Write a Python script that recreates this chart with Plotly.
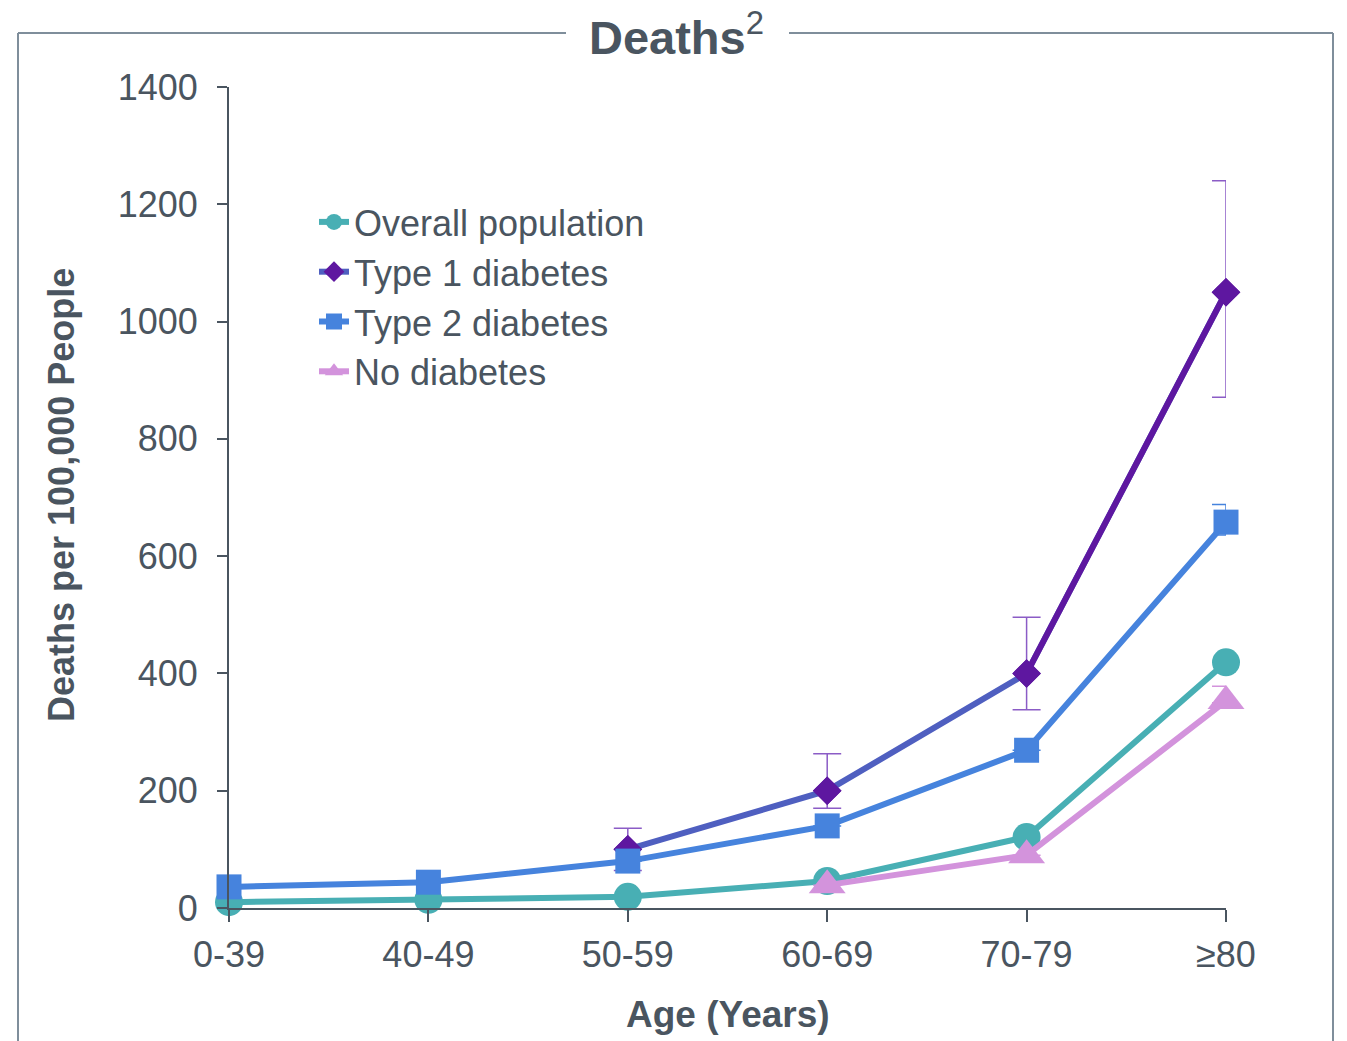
import plotly.graph_objects as go

# Age bands on the x axis
ages = ["0-39", "40-49", "50-59", "60-69", "70-79", "≥80"]

# Deaths per 100,000 people by group
overall = [10, 14, 19, 46, 121, 419]
type1_ages = ["50-59", "60-69", "70-79", "≥80"]
type1 = [100, 200, 400, 1050]
type1_err_plus = [36, 63, 96, 190]
type1_err_minus = [36, 30, 62, 179]
type2 = [36, 44, 80, 140, 269, 658]
type2_err_plus = [0, 0, 0, 0, 0, 30]
type2_err_minus = [0, 0, 0, 0, 0, 22]
nodiab_ages = ["60-69", "70-79", "≥80"]
nodiab = [39, 90, 353]
nodiab_err_plus = [0, 0, 25]
nodiab_err_minus = [0, 0, 3]

yticks = [0, 200, 400, 600, 800, 1000, 1200, 1400]

TEXT = "#4A5560"
AXIS = "#4A5560"
FRAME = "#7F8E9B"
TEAL = "#48AFB4"
T1_LINE = "#4F5FC0"
T1_MARK = "#5E17A0"
T1_ERR = "#8B5CC6"
T2 = "#4683DD"
PINK = "#D393DC"
FONT = "Liberation Sans, Arial, sans-serif"
LW = 6

fig = go.Figure()

fig.add_trace(go.Scatter(
    x=ages, y=overall, name="Overall population", mode="lines+markers",
    line=dict(color=TEAL, width=LW),
    marker=dict(symbol="circle", size=28, color=TEAL),
    cliponaxis=False,
))

t1_marker = dict(symbol="diamond", size=22, color=T1_MARK)
fig.add_trace(go.Scatter(
    x=type1_ages, y=type1, name="Type 1 diabetes", mode="lines+markers",
    line=dict(color=T1_LINE, width=LW),
    marker=t1_marker,
    error_y=dict(type="data", symmetric=False, array=type1_err_plus,
                 arrayminus=type1_err_minus, color=T1_ERR,
                 thickness=1.5, width=14),
    cliponaxis=False,
))
# final Type 1 segment is drawn in the darker purple, markers back on top
fig.add_trace(go.Scatter(
    x=type1_ages[-2:], y=type1[-2:], mode="lines", showlegend=False,
    line=dict(color=T1_MARK, width=LW), hoverinfo="skip", cliponaxis=False,
))
fig.add_trace(go.Scatter(
    x=type1_ages, y=type1, mode="markers", showlegend=False,
    marker=t1_marker, hoverinfo="skip", cliponaxis=False,
))

fig.add_trace(go.Scatter(
    x=ages, y=type2, name="Type 2 diabetes", mode="lines+markers",
    line=dict(color=T2, width=LW),
    marker=dict(symbol="square", size=25, color=T2),
    error_y=dict(type="data", symmetric=False, array=type2_err_plus,
                 arrayminus=type2_err_minus, color=T2,
                 thickness=1.5, width=14),
    cliponaxis=False,
))

fig.add_trace(go.Scatter(
    x=nodiab_ages, y=nodiab, name="No diabetes", mode="lines+markers",
    line=dict(color=PINK, width=LW),
    marker=dict(symbol="triangle-up", size=32, color=PINK),
    error_y=dict(type="data", symmetric=False, array=nodiab_err_plus,
                 arrayminus=nodiab_err_minus, color=PINK,
                 thickness=1.5, width=14),
    cliponaxis=False,
))

# pixel geometry of the plot area
L, R, T, B = 229, 1226, 87, 908
W, H = 1347, 1041
pw, ph = R - L, B - T


def px(xp):
    return (xp - L) / pw


def py(yp):
    return (B - yp) / ph


frame = dict(color=FRAME, width=2)
shapes = [
    dict(type="line", xref="paper", yref="paper", x0=px(18), x1=px(18),
         y0=py(33), y1=py(1060), line=frame),
    dict(type="line", xref="paper", yref="paper", x0=px(1333), x1=px(1333),
         y0=py(33), y1=py(1060), line=frame),
    dict(type="line", xref="paper", yref="paper", x0=px(18), x1=px(566),
         y0=py(33), y1=py(33), line=frame),
    dict(type="line", xref="paper", yref="paper", x0=px(789), x1=px(1333),
         y0=py(33), y1=py(33), line=frame),
]

annotations = [
    dict(text="<b>Deaths</b><sup>2</sup>", xref="paper", yref="paper",
         x=px(676), y=py(34), showarrow=False, xanchor="center", yanchor="middle",
         font=dict(family=FONT, size=47, color=TEXT)),
    dict(text="<b>Age (Years)</b>", xref="paper", yref="paper",
         x=px(728), y=py(1015), showarrow=False, xanchor="center", yanchor="middle",
         font=dict(family=FONT, size=37, color=TEXT)),
    dict(text="<b>Deaths per 100,000 People</b>", xref="paper", yref="paper",
         x=px(61), y=py(495), showarrow=False, xanchor="center", yanchor="middle",
         textangle=-90, font=dict(family=FONT, size=36, color=TEXT)),
]

fig.update_layout(
    width=W, height=H,
    margin=dict(l=L, r=W - R, t=T, b=H - B, pad=0),
    paper_bgcolor="white", plot_bgcolor="white",
    font=dict(family=FONT, color=TEXT),
    showlegend=True,
    legend=dict(x=px(314), y=py(192), xanchor="left", yanchor="top",
                bgcolor="rgba(0,0,0,0)", font=dict(family=FONT, size=36, color=TEXT),
                tracegroupgap=0, itemwidth=30),
    shapes=shapes,
    annotations=annotations,
    xaxis=dict(
        type="category", categoryorder="array", categoryarray=ages,
        range=[0, len(ages) - 1], showgrid=False, zeroline=False,
        showline=True, linecolor=AXIS, linewidth=2,
        ticks="outside", ticklen=12, tickwidth=2, tickcolor=AXIS,
        tickfont=dict(family=FONT, size=36, color=TEXT), ticklabelstandoff=2,
    ),
    yaxis=dict(
        range=[0, 1400], tickvals=yticks, showgrid=False, zeroline=False,
        showline=True, linecolor=AXIS, linewidth=2,
        ticks="outside", ticklen=10, tickwidth=2, tickcolor=AXIS,
        tickfont=dict(family=FONT, size=36, color=TEXT), ticklabelstandoff=12,
    ),
)

fig.write_html("out.html")
